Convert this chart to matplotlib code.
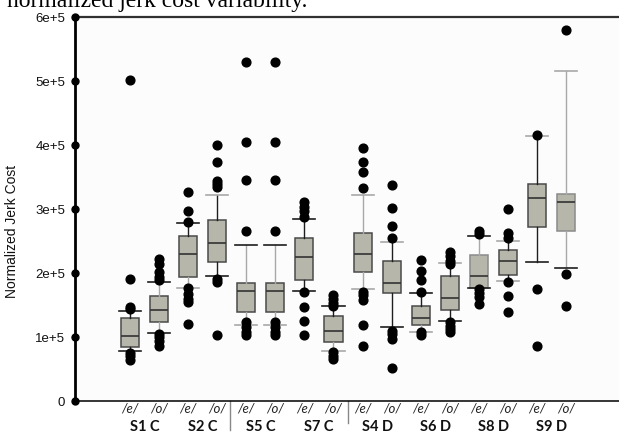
import matplotlib
matplotlib.use("Agg")
import matplotlib.pyplot as plt
import numpy as np

# ---------------- data (units of 1e5) ----------------
groups = ['S1 C', 'S2 C', 'S5 C', 'S7 C', 'S4 D', 'S6 D', 'S8 D', 'S9 D']
vowels = ['/e/', '/o/']
yticks = [0, 1e5, 2e5, 3e5, 4e5, 5e5, 6e5]
ytick_labels = ['0', '1e+5', '2e+5', '3e+5', '4e+5', '5e+5', '6e+5']

q1 =     [0.835, 1.226, 1.93, 2.17, 1.38, 1.38, 1.88, 0.92, 2.02, 1.68, 1.19, 1.42, 1.77, 1.97, 2.72, 2.65]
median = [1.005, 1.42, 2.30, 2.46, 1.71, 1.71, 2.25, 1.085, 2.29, 1.835, 1.29, 1.61, 1.945, 2.18, 3.165, 3.11]
q3 =     [1.30, 1.64, 2.57, 2.83, 1.835, 1.835, 2.545, 1.33, 2.62, 2.18, 1.475, 1.955, 2.28, 2.36, 3.39, 3.23]
whislo = [0.77, 1.06, 1.77, 1.955, 1.18, 1.18, 1.72, 0.78, 1.75, 1.15, 1.07, 1.24, 1.76, 1.87, 2.17, 2.07]
whishi = [1.40, 1.85, 2.78, 3.22, 2.435, 2.435, 2.84, 1.485, 3.21, 2.48, 1.68, 2.15, 2.57, 2.50, 4.14, 5.16]
fliers = [
    [5.02, 1.90, 1.47, 1.43, 0.75, 0.70, 0.63],
    [2.21, 2.14, 2.01, 1.93, 1.88, 1.04, 0.99, 0.94, 0.86],
    [3.26, 2.97, 2.80, 1.77, 1.67, 1.59, 1.55, 1.20],
    [4.00, 3.74, 3.44, 3.39, 3.34, 1.90, 1.85, 1.02],
    [5.30, 4.04, 3.45, 2.65, 1.23, 1.15, 1.08, 1.02],
    [5.30, 4.04, 3.45, 2.65, 1.23, 1.15, 1.08, 1.02],
    [3.11, 3.03, 2.96, 2.88, 1.70, 1.46, 1.24, 1.03],
    [1.65, 1.59, 1.53, 1.48, 0.76, 0.70, 0.65],
    [3.95, 3.73, 3.58, 3.32, 1.70, 1.65, 1.57, 1.18, 0.86],
    [3.37, 3.02, 2.73, 2.54, 1.09, 1.04, 0.96, 0.51],
    [2.20, 2.03, 1.88, 1.70, 1.08, 1.03],
    [2.32, 2.27, 2.19, 2.14, 1.23, 1.17, 1.12, 1.07],
    [2.66, 2.61, 1.75, 1.69, 1.62, 1.51],
    [3.00, 2.62, 2.55, 1.86, 1.64, 1.38],
    [4.15, 1.75, 0.86],
    [5.80, 1.98, 1.475],
]
scale = 1e5

# ---------------- styles ----------------
# (lower whisker, upper whisker, lower cap, upper cap) : k = dark, g = gray
line_styles = [
    'kkkk', 'ggkk', 'gkgk', 'kkkg', 'gggk', 'gggk',
    'kkkk', 'gkgk', 'gggg', 'kkkg', 'gkgk', 'kkkg', 'ggkk', 'kkgg', 'kkkg', 'ggkg',
]
box_edges = ['#4a4a4a'] * 16
box_edges[12] = '#8a8a8a'
box_edges[15] = '#8a8a8a'
DARK = '#1e1e1e'
GRAY = '#a8a8a8'
FILL = '#b6b6aa'

# ---------------- figure ----------------
fig = plt.figure(figsize=(6.19, 4.35), dpi=100)
ax = fig.add_axes([75 / 619, 1 - 401.7 / 435, 1 - 75 / 619, (401.7 - 18) / 435])
ax.set_facecolor('#fcfcfc')

n = len(q1)
positions = np.arange(n)
stats = []
for i in range(n):
    stats.append(dict(med=median[i] * scale, q1=q1[i] * scale, q3=q3[i] * scale,
                      whislo=whislo[i] * scale, whishi=whishi[i] * scale,
                      fliers=np.array(fliers[i]) * scale))

bp = ax.bxp(stats, positions=positions, widths=0.62, capwidths=0.76,
            patch_artist=True, showfliers=True,
            boxprops=dict(facecolor=FILL, edgecolor='#4a4a4a', linewidth=1.1),
            medianprops=dict(color='#333333', linewidth=1.2),
            whiskerprops=dict(color=DARK, linewidth=1.0),
            capprops=dict(color=DARK, linewidth=1.2),
            flierprops=dict(marker='o', markerfacecolor='black', markeredgecolor='black',
                            markersize=6.3, linestyle='none'))

cmap = {'k': DARK, 'g': GRAY}
for i in range(n):
    s = line_styles[i]
    bp['whiskers'][2 * i].set_color(cmap[s[0]])
    bp['whiskers'][2 * i + 1].set_color(cmap[s[1]])
    bp['caps'][2 * i].set_color(cmap[s[2]])
    bp['caps'][2 * i + 1].set_color(cmap[s[3]])
    bp['boxes'][i].set_edgecolor(box_edges[i])

# limits
spacing = 29.07
ax.set_xlim((75 - 130) / spacing, (619 - 130) / spacing)
ax.set_ylim(0, 6e5)

# spines
ax.spines['right'].set_visible(False)
ax.spines['left'].set_linewidth(2.0)
ax.spines['left'].set_color('black')
ax.spines['top'].set_linewidth(1.6)
ax.spines['top'].set_color('#303030')
ax.spines['bottom'].set_linewidth(1.1)
ax.spines['bottom'].set_color('black')

# y ticks with dots
ax.set_yticks(yticks)
ax.set_yticklabels(ytick_labels, fontfamily='Liberation Sans', fontsize=9.5, color='#111111')
ax.tick_params(axis='y', length=0, pad=7)
ytrans = ax.get_yaxis_transform()
ax.plot(np.zeros(len(yticks)), yticks, 'o', color='black', markersize=5,
        transform=ytrans, clip_on=False, zorder=5)

# x tick labels
ax.set_xticks(positions)
ax.set_xticklabels([vowels[i % 2] for i in range(n)], fontfamily='Lato',
                   fontstyle='italic', fontsize=9.5, color='#222222')
ax.tick_params(axis='x', length=0, pad=0.5)

# group labels
xtrans = ax.get_xaxis_transform()
for g, name in enumerate(groups):
    ax.text(2 * g + 0.5, -0.065, name, transform=xtrans, ha='center', va='center',
            fontfamily='Lato', fontweight='bold', fontsize=10.5, color='#111111')

# separators
axh = 401.7 - 18
for xs, ylen in [(3.44, 29), (7.5, 22)]:
    ax.plot([xs, xs], [0, -ylen / axh], color='#888888', linewidth=1.0,
            transform=xtrans, clip_on=False)

# y label
fig.text(12 / 619, 1 - 231 / 435, 'Normalized Jerk Cost', rotation=90,
         ha='center', va='center', fontfamily='Liberation Sans', fontsize=10, color='#111111')

# clipped title (cut at the top edge, as in the source)
fig.text(7 / 619, 1 - 7 / 435, 'normalized jerk cost variability.', ha='left', va='baseline',
         fontfamily='Liberation Serif', fontsize=17, color='black')

fig.savefig('out.png', dpi=100)
